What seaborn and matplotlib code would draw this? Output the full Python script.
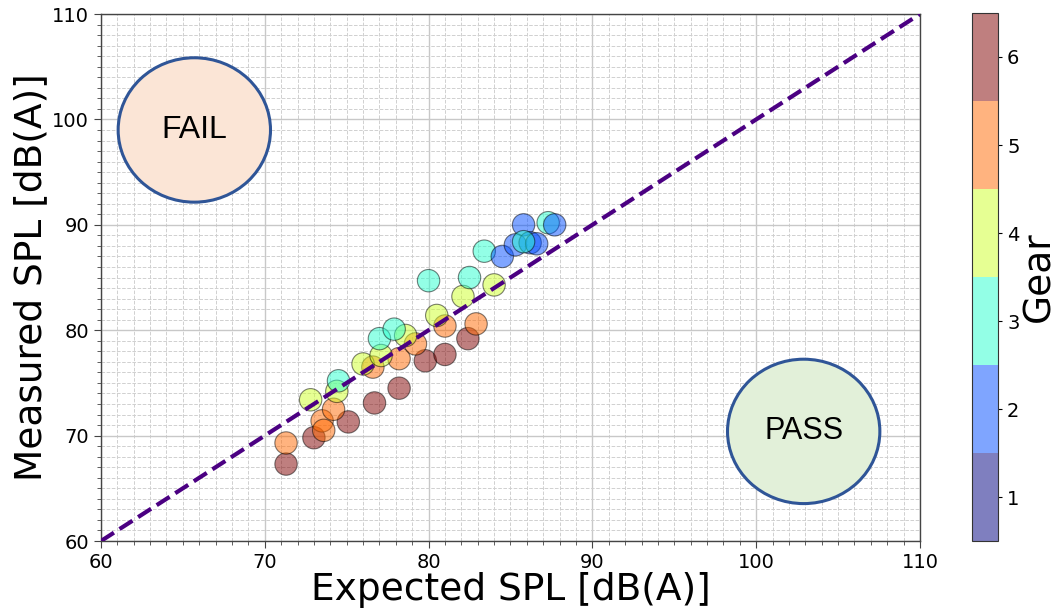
import numpy as np
import pandas as pd
import matplotlib
matplotlib.use("Agg")
import matplotlib.pyplot as plt
import matplotlib.colors as mcolors
from matplotlib.patches import Ellipse
from matplotlib.ticker import MultipleLocator
import seaborn as sns

# ---- data ----
expected = [71.3, 73.0, 75.1, 76.7, 78.2, 79.8, 81.0, 82.4,
            71.3, 73.5, 73.6, 74.2, 76.6, 78.2, 79.2, 81.0, 82.9,
            72.8, 74.4, 76.0, 77.1, 78.6, 80.5, 82.1, 84.0,
            74.5, 77.0, 77.9, 80.0, 82.5, 83.4, 87.3,
            84.5, 85.8, 87.7, 85.3, 86.2, 86.6,
            85.8]
measured = [67.3, 69.8, 71.3, 73.1, 74.5, 77.1, 77.7, 79.2,
            69.3, 71.4, 70.5, 72.5, 76.5, 77.3, 78.7, 80.4, 80.6,
            73.4, 74.2, 76.8, 77.6, 79.5, 81.4, 83.2, 84.3,
            75.2, 79.2, 80.1, 84.7, 85.0, 87.5, 90.2,
            87.0, 90.0, 90.0, 88.1, 88.3, 88.2,
            88.4]
gear = [6, 6, 6, 6, 6, 6, 6, 6,
        5, 5, 5, 5, 5, 5, 5, 5, 5,
        4, 4, 4, 4, 4, 4, 4, 4,
        3, 3, 3, 3, 3, 3, 3,
        2, 2, 2, 2, 2, 2,
        3]
gear_levels = [1, 2, 3, 4, 5, 6]

df = pd.DataFrame({"Expected": expected, "Measured": measured, "Gear": gear})

sns.set_style("ticks")
plt.rcParams["font.family"] = ["DejaVu Sans"]
plt.rcParams["text.color"] = "black"
plt.rcParams["axes.labelcolor"] = "black"
plt.rcParams["xtick.color"] = "black"
plt.rcParams["ytick.color"] = "black"

fig = plt.figure(figsize=(10.56, 6.10), dpi=100)
ax = fig.add_axes([0.0956, 0.1131, 0.7756, 0.8639])
cax = fig.add_axes([0.9205, 0.113, 0.0246, 0.8657])

cmap = plt.get_cmap("jet", len(gear_levels))
norm = mcolors.BoundaryNorm(np.arange(0.5, 7.0, 1.0), cmap.N)
palette = {g: cmap(norm(g)) for g in gear_levels}

# grid
ax.xaxis.set_major_locator(MultipleLocator(10))
ax.yaxis.set_major_locator(MultipleLocator(10))
ax.xaxis.set_minor_locator(MultipleLocator(1))
ax.yaxis.set_minor_locator(MultipleLocator(1))
ax.grid(which="major", color="#c8c8c8", linewidth=1.0, linestyle="-")
ax.grid(which="minor", color="#d0d0d0", linewidth=0.7, linestyle="--")
ax.set_axisbelow(True)

sns.scatterplot(data=df, x="Expected", y="Measured", hue="Gear", palette=palette,
                s=260, alpha=0.5, edgecolor="black", linewidth=0.8,
                legend=False, ax=ax, zorder=3)

ax.axline((60, 60), slope=1, color="#4B0082", linewidth=3, linestyle="--", zorder=4)

# FAIL / PASS ellipses
ax.add_patch(Ellipse((65.7, 99.0), 9.3, 13.7, facecolor="#fbe5d6", edgecolor="#2f5597",
                     linewidth=2.2, zorder=5))
ax.text(65.7, 99.0, "FAIL", ha="center", va="center", fontsize=23,
        family="Liberation Sans", color="black", zorder=6)
ax.add_patch(Ellipse((102.9, 70.4), 9.3, 13.7, facecolor="#e2f0d9", edgecolor="#2f5597",
                     linewidth=2.2, zorder=5))
ax.text(102.9, 70.4, "PASS", ha="center", va="center", fontsize=22,
        family="Liberation Sans", color="black", zorder=6)

ax.set_xlim(60, 110)
ax.set_ylim(60, 110)
ax.set_xlabel("Expected SPL [dB(A)]", fontsize=27, labelpad=0)
ax.set_ylabel("Measured SPL [dB(A)]", fontsize=27, labelpad=2)
ax.tick_params(axis="both", which="major", labelsize=14, length=5, color="#444444")
ax.tick_params(axis="both", which="minor", length=3, color="#444444")
for sp in ax.spines.values():
    sp.set_visible(True)
    sp.set_color("#444444")
    sp.set_linewidth(1.0)

sm = plt.cm.ScalarMappable(cmap=cmap, norm=norm)
cb = fig.colorbar(sm, cax=cax, ticks=gear_levels, alpha=0.5)
cb.ax.minorticks_off()
cb.set_label("Gear", fontsize=27, labelpad=1)
cb.ax.tick_params(labelsize=14, length=3)
cb.outline.set_edgecolor("#333333")

fig.savefig("out.png", dpi=100)
